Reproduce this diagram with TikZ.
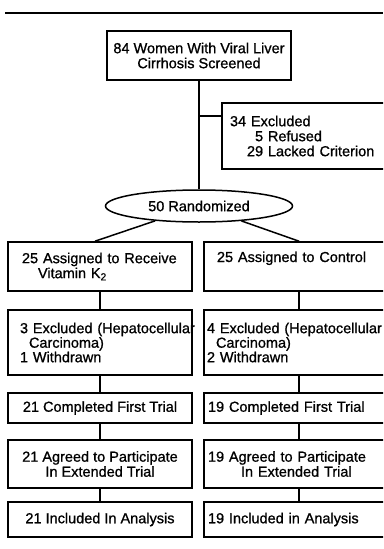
\documentclass[tikz,border=0pt]{standalone}
\usepackage{fontspec}
\setmainfont{Liberation Sans}[FakeBold=0.9]
\usetikzlibrary{shapes.geometric}
\begin{document}
\begin{tikzpicture}[x=1pt,y=-1pt,
  every node/.style={font=\fontsize{14.5}{15}\selectfont},
  box/.style={draw, line width=1.6pt, rectangle, inner ysep=0pt},
  tight/.style={font=\fontsize{14.5}{13.5}\selectfont},
  conn/.style={line width=1.5pt}]
\useasboundingbox (0,0) rectangle (383,549);
\clip (0,0) rectangle (383,549);
\fill[white] (0,0) rectangle (383,549);

\draw[line width=2pt] (5,13) -- (383,13);

\node[box, minimum width=184pt, minimum height=49pt, align=center] (scr) at (199,55.5)
  {84 Women With Viral Liver\\Cirrhosis Screened};

\node[box, minimum height=66pt, inner xsep=8pt, text width=162pt, align=left] (exc) at (311,136)
  {34 Excluded\\\hspace*{17pt}\phantom{2}5 Refused\\\hspace*{17pt}29 Lacked Criterion};

\node[draw, ellipse, line width=1.5pt, minimum width=187pt, minimum height=32pt, inner sep=0pt] (rnd) at (199,206)
  {50 Randomized};

\node[box, minimum height=49pt, inner xsep=14pt, text width=156pt, align=left] (L1) at (100,266.5)
  {25 Assigned to Receive\\\hspace*{16pt}Vitamin K\textsubscript{2}};
\node[box, minimum height=49pt, inner xsep=13pt, text width=164pt, align=left] (R1) at (299,266.5)
  {25 Assigned to Control\\\strut};

\node[box, tight, minimum height=65pt, inner xsep=12pt, text width=160pt, align=left] (L2) at (100,342.5)
  {\mbox{3 Excluded (Hepatocellular}\\\hspace*{9pt}Carcinoma)\\1 Withdrawn};
\node[box, tight, minimum height=65pt, inner xsep=3pt, text width=184pt, align=left] (R2) at (299,342.5)
  {\mbox{4 Excluded (Hepatocellular}\\\hspace*{9pt}Carcinoma)\\2 Withdrawn};

\node[box, minimum width=184pt, minimum height=30pt, align=center] (L3) at (100,408)
  {21 Completed First Trial};
\node[box, minimum height=30pt, inner xsep=4pt, text width=182pt, align=left] (R3) at (299,408)
  {19 Completed First Trial};

\node[box, minimum width=184pt, minimum height=48pt, align=center] (L4) at (100,464)
  {21 Agreed to Participate\\In Extended Trial};
\node[box, minimum height=48pt, inner xsep=4pt, text width=182pt, align=left] (R4) at (299,464)
  {19 Agreed to Participate\\\hspace*{33pt}In Extended Trial};

\node[box, minimum width=184pt, minimum height=35pt, align=center] (L5) at (100,519.5)
  {21 Included In Analysis};
\node[box, minimum height=35pt, inner xsep=4pt, text width=182pt, align=left] (R5) at (299,519.5)
  {19 Included in Analysis};

\coordinate (br) at (199,116);
\draw[conn] (scr) -- (rnd);
\draw[conn] (br) -- (br -| exc.west);
\draw[conn] (rnd) -- ([xshift=-5pt]L1.north);
\draw[conn] (rnd) -- (R1.north);
\draw[conn] (L1) -- (L2);
\draw[conn] (L2) -- (L3);
\draw[conn] (L3) -- (L4);
\draw[conn] (L4) -- (L5);
\draw[conn] (R1) -- (R2);
\draw[conn] (R2) -- (R3);
\draw[conn] (R3) -- (R4);
\draw[conn] (R4) -- (R5);
\end{tikzpicture}
\end{document}
